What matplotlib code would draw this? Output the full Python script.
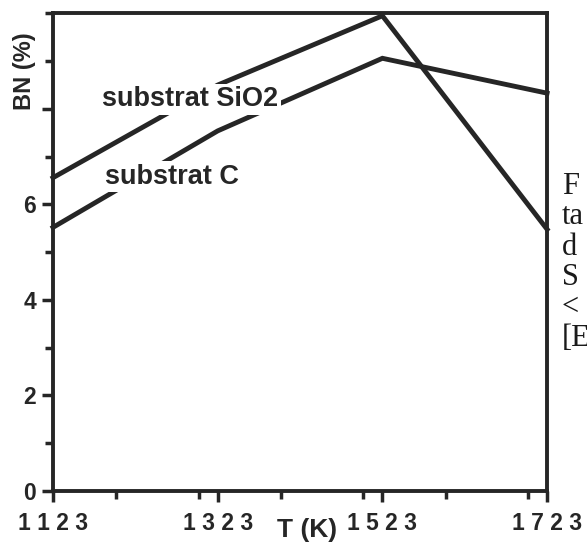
import matplotlib
matplotlib.use("Agg")
import matplotlib.pyplot as plt
from matplotlib.ticker import MultipleLocator

# values
temps = [1123, 1323, 1523, 1723]
bn_sio2 = [6.56, 8.5, 9.95, 5.48]
bn_c = [5.52, 7.54, 9.06, 8.33]

xticks = [1123, 1323, 1523, 1723]
xticklabels = ["1 1 2 3", "1 3 2 3", "1 5 2 3", "1 7 2 3"]
yticks = [0, 2, 4, 6, 8]
yticklabels = ["0", "2", "4", "6", ""]

ink = "#262626"
plt.rcParams["font.family"] = ["Liberation Sans", "DejaVu Sans"]

fig = plt.figure(figsize=(5.87, 5.49), dpi=100)
ax = fig.add_axes([0.0903, 0.1056, 0.8417, 0.870])

ax.plot(temps, bn_sio2, color=ink, lw=3.5, solid_joinstyle="miter", zorder=2, clip_on=False)
ax.plot(temps, bn_c, color=ink, lw=3.5, solid_joinstyle="miter", zorder=2, clip_on=False)

box = dict(facecolor="white", edgecolor="none", pad=2)
ax.text(1290, 8.2, "substrat SiO2", ha="center", va="center", fontsize=19.5,
        fontweight="bold", color=ink, bbox=box, zorder=3)
ax.text(1268, 6.58, "substrat C", ha="center", va="center", fontsize=19.5,
        fontweight="bold", color=ink, bbox=box, zorder=3)

ax.set_xlim(1123, 1723)
ax.set_ylim(0, 10)
ax.set_xticks(xticks)
ax.set_xticklabels(xticklabels)
ax.xaxis.set_minor_locator(MultipleLocator(100))
ax.set_yticks(yticks)
ax.set_yticklabels(yticklabels)
ax.yaxis.set_minor_locator(MultipleLocator(1))

ax.tick_params(axis="both", which="major", direction="out", length=8, width=2.5,
               color=ink, labelsize=16.5, labelcolor=ink)
ax.tick_params(axis="both", which="minor", direction="out", length=6, width=2.5, color=ink)
ax.tick_params(axis="x", pad=7)
ax.tick_params(axis="y", pad=4)
for lab in ax.get_xticklabels() + ax.get_yticklabels():
    lab.set_fontweight("bold")

for s in ax.spines.values():
    s.set_linewidth(2.8)
    s.set_color(ink)

ax.text(0.515, -0.082, "T (K)", transform=ax.transAxes, ha="center", va="center",
        fontsize=19, fontweight="bold", color=ink)
ax.text(-0.057, 0.88, "BN (%)", transform=ax.transAxes, rotation=90, ha="center",
        va="center", fontsize=17, fontweight="bold", color=ink)

# cut-off caption text at the right edge of the scan
fig.text(0.957, 1 - 172 / 549, "F\nta\nd\nS\n<\n[E", ha="left", va="top",
         fontsize=22, family="Liberation Serif", color="#1a1a1a", linespacing=1.06,
         transform=fig.transFigure)

fig.savefig("out.png", dpi=100, facecolor="white")
